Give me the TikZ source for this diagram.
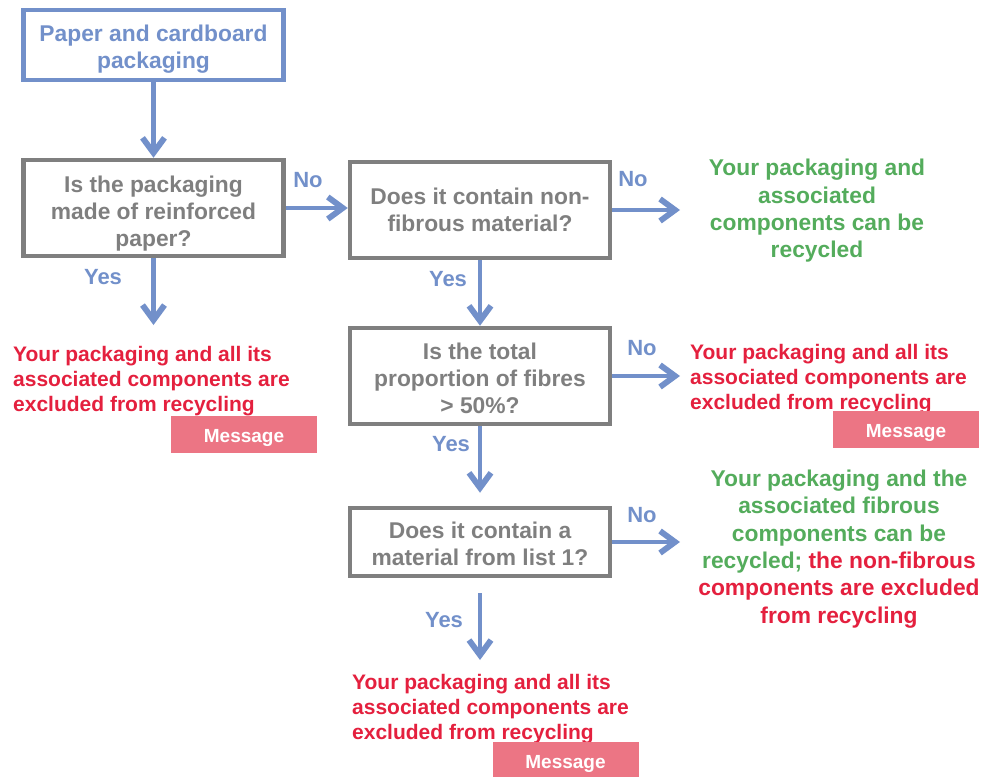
\documentclass[tikz,border=0pt]{standalone}
\usepackage{fontspec}
\setmainfont{Liberation Sans}
\usetikzlibrary{arrows.meta}

\definecolor{flowblue}{RGB}{114,144,202}
\definecolor{boxgrey}{RGB}{127,127,127}
\definecolor{okgreen}{RGB}{84,172,92}
\definecolor{badred}{RGB}{228,32,62}
\definecolor{msgpink}{RGB}{236,117,132}

\newcommand\flowqfont{\fontsize{22.8}{27}\selectfont\bfseries}
\newcommand\flowlblfont{\fontsize{22}{27}\selectfont\bfseries}
\newcommand\flowokfont{\fontsize{22.8}{27.4}\selectfont\bfseries}
\newcommand\flowbadfont{\fontsize{21}{25}\selectfont\bfseries}
\newcommand\flowtagfont{\fontsize{19}{20}\selectfont\bfseries}
% invisible strut that lowers the text inside a box
\newcommand\flowdrop[1]{\rule{0pt}{#1}}

\tikzset{
  qbox/.style={draw=boxgrey, line width=4.5pt, text=boxgrey, align=center,
    inner sep=0pt, font=\flowqfont, minimum width=260pt},
  startbox/.style={qbox, draw=flowblue, text=flowblue},
  lbl/.style={text=flowblue, font=\flowlblfont, inner sep=0pt},
  okmsg/.style={text=okgreen, align=center, font=\flowokfont, inner sep=0pt},
  badmsg/.style={text=badred, align=left, anchor=west, font=\flowbadfont, inner sep=0pt},
  tag/.style={fill=msgpink, text=white, font=\flowtagfont,
    minimum width=146pt, minimum height=37pt, inner sep=0pt},
  flow/.style={draw=flowblue, line width=4.5pt,
    -{Straight Barb[length=15pt,width=22pt,line width=0pt 1.3]}}
}

\begin{document}
\begin{tikzpicture}[x=1pt,y=-1pt]
\useasboundingbox (0,0) rectangle (982,776);

% question boxes
\node[startbox, minimum height=70pt] (start) at (153.5,45) {\flowdrop{24pt}Paper and cardboard\\packaging};
\node[qbox, minimum height=96pt] (q1) at (153.5,208) {\flowdrop{27pt}Is the packaging\\made of reinforced\\paper?};
\node[qbox, minimum height=96pt] (q2) at (480,210) {\flowdrop{17pt}Does it contain non-\\fibrous material?};
\node[qbox, minimum height=96pt] (q3) at (480,376) {\flowdrop{21pt}Is the total\\proportion of fibres\\> 50\%?};
\node[qbox, minimum height=68pt] (q4) at (480,542) {\flowdrop{21pt}Does it contain a\\material from list 1?};

% outcomes
\node[badmsg] (out1) at (13,381) {Your packaging and all its\\associated components are\\excluded from recycling};
\node[okmsg] (out2) at (817,211) {Your packaging and\\associated\\components can be\\recycled};
\node[badmsg] (out3) at (690,379) {Your packaging and all its\\associated components are\\excluded from recycling};
\node[okmsg] (out4) at (839,549) {Your packaging and the\\associated fibrous\\components can be\\recycled; \textcolor{badred}{the non-fibrous}\\\textcolor{badred}{components are excluded}\\\textcolor{badred}{from recycling}};
\node[badmsg] (out5) at (352,709) {Your packaging and all its\\associated components are\\excluded from recycling};

% message tags
\node[tag] (tag1) at (244,434.5) {\flowdrop{21pt}Message};
\node[tag] (tag3) at (906,429.5) {\flowdrop{21pt}Message};
\node[tag] (tag5) at (565.5,760.5) {\flowdrop{21pt}Message};

% free arrow ends
\coordinate (e1) at (153.5,325);
\coordinate (e2) at (680,210);
\coordinate (e3) at (680,377);
\coordinate (e4) at (680,543);
\coordinate (e5) at (480,660);

% connectors
\draw[flow] (start.south) -- (q1.north);
\draw[flow] (q1.south) -- (e1);
\draw[flow] (q1.east) -- (q1.east -| q2.west);
\draw[flow] (q2.east) -- (e2);
\draw[flow] (q2.south) -- (q3.north);
\draw[flow] (q3.east) -- (q3.east -| e3);
\draw[flow, shorten >=13pt] (q3.south) -- (q4.north);
\draw[flow] (q4.east) -- (q4.east -| e4);
\draw[flow, shorten <=15pt] (q4.south) -- (e5);

% branch labels
\node[lbl] (no1) at (308,180) {No};
\node[lbl] (yes1) at (103,277) {Yes};
\node[lbl] (no2) at (633,179) {No};
\node[lbl] (yes2) at (448,279) {Yes};
\node[lbl] (no3) at (642,348) {No};
\node[lbl] (yes3) at (451,444) {Yes};
\node[lbl] (no4) at (642,515) {No};
\node[lbl] (yes4) at (444,620) {Yes};
\end{tikzpicture}
\end{document}
